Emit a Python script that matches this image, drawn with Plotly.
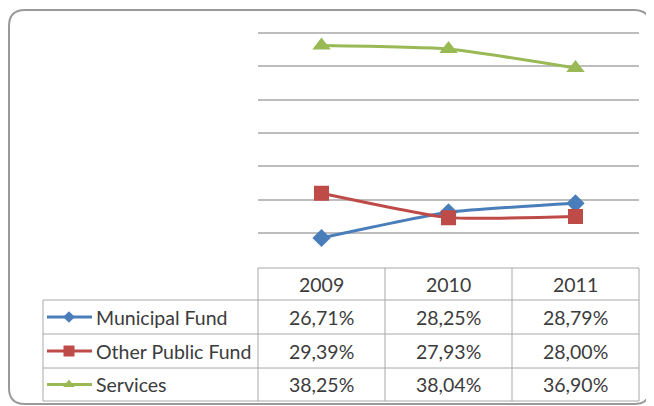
import plotly.graph_objects as go

years = ["2009", "2010", "2011"]
series_names = ["Municipal Fund", "Other Public Fund", "Services"]
municipal = [26.71, 28.25, 28.79]
other_public = [29.39, 27.93, 28.00]
services = [38.25, 38.04, 36.90]
y_ticks = [25, 27, 29, 31, 33, 35, 37, 39]

# the page body adds an 8px margin, so the figure is drawn 8px in from the corner
OFF = 8
VW, VH = 654, 406
W, H = VW - OFF, VH - OFF

colors = ["#4a7ebb", "#be4b48", "#98b954"]
symbols = ["diamond", "square", "triangle-up"]
msizes = [14, 15, 16]
key_sizes = [9, 11, 10]
values = [municipal, other_public, services]

FONT = "Lato"
FS = 19.5
TXT = "#3c3c3c"
GRID = "#bdbdbd"
TBL = "#a8a8a8"

# layout in viewport pixels
px_left, px_right = 258, 639
px_top, px_axis = 33, 266.5          # pixel rows of the top and bottom ticks
pad = 0.15                           # extra headroom so the top gridline is drawn
ppu = (px_axis - px_top) / (y_ticks[-1] - y_ticks[0])
col_edges = [43, 258, 385, 512, 639]
row_edges = [268, 300, 334, 368, 401]


def fx(p):
    return (p - OFF) / W


def fy(p):
    return 1 - (p - OFF) / H


fig = go.Figure()

for name, vals, c, s, ms in zip(series_names, values, colors, symbols, msizes):
    fig.add_trace(go.Scatter(
        x=years, y=vals, name=name, mode="lines+markers",
        line=dict(color=c, width=3, shape="spline", smoothing=0.5),
        marker=dict(symbol=s, size=ms, color=c),
        xaxis="x", yaxis="y", showlegend=False, hoverinfo="x+y+name"))

# legend keys inside the data table (pixel overlay axis)
key_x0, key_x1, key_mid = 47, 92, 69
for i, (c, s, ks) in enumerate(zip(colors, symbols, key_sizes)):
    yc = (row_edges[i + 1] + row_edges[i + 2]) / 2
    fig.add_trace(go.Scatter(
        x=[key_x0, key_x1], y=[yc, yc], mode="lines",
        line=dict(color=c, width=3), xaxis="x2", yaxis="y2",
        showlegend=False, hoverinfo="skip"))
    fig.add_trace(go.Scatter(
        x=[key_mid], y=[yc], mode="markers",
        marker=dict(symbol=s, size=ks, color=c), xaxis="x2", yaxis="y2",
        showlegend=False, hoverinfo="skip"))

shapes = []
r = 16
x0, y0, x1, y1 = 5, 10, 650, 404
x0 = max(x0, OFF + 1)
y0 = max(y0, OFF + 1)
path = (f"M {x0+r},{y0} L {x1-r},{y0} Q {x1},{y0} {x1},{y0+r} "
        f"L {x1},{y1-r} Q {x1},{y1} {x1-r},{y1} L {x0+r},{y1} "
        f"Q {x0},{y1} {x0},{y1-r} L {x0},{y0+r} Q {x0},{y0} {x0+r},{y0} Z")
shapes.append(dict(type="path", path=path, xref="x2", yref="y2",
                   line=dict(color="#9a9a9a", width=2), layer="below"))

ln = dict(color=TBL, width=1)
shapes.append(dict(type="line", xref="x2", yref="y2", x0=col_edges[1], x1=col_edges[-1],
                   y0=row_edges[0], y1=row_edges[0], line=ln))
for yy in row_edges[1:]:
    shapes.append(dict(type="line", xref="x2", yref="y2", x0=col_edges[0], x1=col_edges[-1],
                       y0=yy, y1=yy, line=ln))
shapes.append(dict(type="line", xref="x2", yref="y2", x0=col_edges[0], x1=col_edges[0],
                   y0=row_edges[1], y1=row_edges[-1], line=ln))
for xx in col_edges[1:]:
    shapes.append(dict(type="line", xref="x2", yref="y2", x0=xx, x1=xx,
                       y0=row_edges[0], y1=row_edges[-1], line=ln))

annotations = []
centers = [(col_edges[j + 1] + col_edges[j + 2]) / 2 for j in range(3)]
font = dict(family=FONT, size=FS, color=TXT)
for j, yr in enumerate(years):
    annotations.append(dict(x=centers[j], y=(row_edges[0] + row_edges[1]) / 2, xref="x2", yref="y2",
                            text=yr, showarrow=False, font=font))
for i, (name, vals) in enumerate(zip(series_names, values)):
    yc = (row_edges[i + 1] + row_edges[i + 2]) / 2
    annotations.append(dict(x=94, y=yc, xref="x2", yref="y2", xanchor="left",
                            text=name, showarrow=False, font=font))
    for j, v in enumerate(vals):
        annotations.append(dict(x=centers[j], y=yc, xref="x2", yref="y2",
                                text=f"{v:.2f}".replace(".", ",") + "%", showarrow=False,
                                font=font))

fig.update_layout(
    width=W, height=H, margin=dict(l=0, r=0, t=0, b=0),
    paper_bgcolor="white", plot_bgcolor="rgba(0,0,0,0)",
    xaxis=dict(domain=[fx(px_left), fx(px_right)], type="category", range=[-0.5, 2.5],
               showticklabels=False, showgrid=False, zeroline=False, showline=False, ticks="",
               anchor="y"),
    yaxis=dict(domain=[fy(px_axis), fy(px_top - pad * ppu)],
               range=[y_ticks[0], y_ticks[-1] + pad],
               tickvals=y_ticks, showticklabels=False, showgrid=True, gridcolor=GRID,
               gridwidth=1.5, zeroline=False, showline=False, ticks="", anchor="x"),
    xaxis2=dict(domain=[0, 1], range=[OFF, VW], visible=False, anchor="y2"),
    yaxis2=dict(domain=[0, 1], range=[VH, OFF], visible=False, anchor="x2"),
    shapes=shapes, annotations=annotations, showlegend=False,
)

fig.write_html("out.html")
